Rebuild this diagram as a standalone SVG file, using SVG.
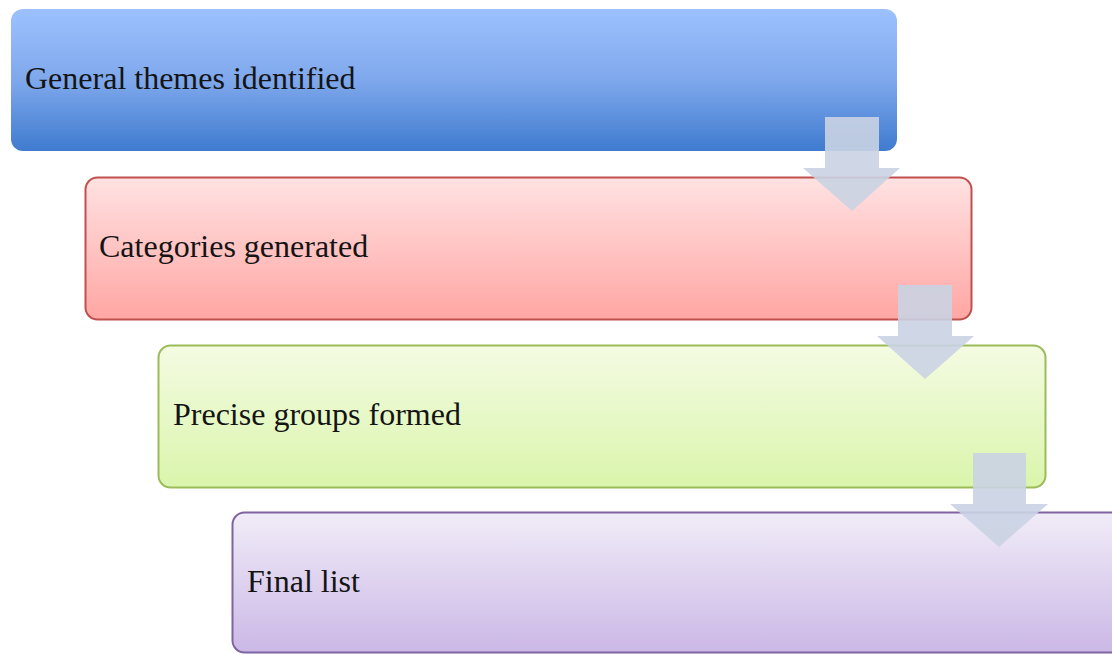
<svg xmlns="http://www.w3.org/2000/svg" width="1112" height="654" viewBox="0 0 1112 654">
<style>
.lbl{font-family:"Liberation Serif","Times New Roman",serif;font-size:32px;fill:#141414}
.arrow{fill:#CAD3E3;fill-opacity:0.9}
</style>
<defs>
<linearGradient id="gBlue" x1="0" y1="0" x2="0" y2="1"><stop offset="0" stop-color="#9DC1FF"/><stop offset="0.5" stop-color="#7FA8EC"/><stop offset="1" stop-color="#3F7BCF"/></linearGradient>
<linearGradient id="gRed" x1="0" y1="0" x2="0" y2="1"><stop offset="0" stop-color="#FFE2E2"/><stop offset="1" stop-color="#FFA6A3"/></linearGradient>
<linearGradient id="gGreen" x1="0" y1="0" x2="0" y2="1"><stop offset="0" stop-color="#F4FBE2"/><stop offset="1" stop-color="#DAF5AC"/></linearGradient>
<linearGradient id="gPurple" x1="0" y1="0" x2="0" y2="1"><stop offset="0" stop-color="#F1ECF8"/><stop offset="1" stop-color="#CBB8E6"/></linearGradient>
</defs>
<rect width="1112" height="654" fill="#FFFFFF"/>
<g id="node1">
<rect x="11" y="9" width="886" height="142" rx="12" fill="url(#gBlue)"/>
<text class="lbl" x="25" y="89" fill="#0F1A33">General themes identified</text>
</g>
<g id="node2">
<rect x="85.5" y="177.5" width="886" height="142" rx="12" fill="url(#gRed)" stroke="#C0504D" stroke-width="2"/>
<text class="lbl" x="99" y="257">Categories generated</text>
</g>
<g id="node3">
<rect x="158.5" y="345.5" width="887" height="142" rx="12" fill="url(#gGreen)" stroke="#9BBB59" stroke-width="2"/>
<text class="lbl" x="173" y="425">Precise groups formed</text>
</g>
<g id="node4">
<rect x="232.5" y="512.5" width="895" height="140" rx="12" fill="url(#gPurple)" stroke="#8064A2" stroke-width="2"/>
<text class="lbl" x="247" y="592">Final list</text>
</g>
<g id="connectors">
<polygon class="arrow" points="825,117 879,117 879,168 900,168 852,211 803,168 825,168"/>
<polygon class="arrow" points="898,285 952,285 952,336 974,336 925,379 877,336 898,336"/>
<polygon class="arrow" points="973,453 1026,453 1026,504 1048,504 999,547 950,504 973,504"/>
</g>
</svg>
